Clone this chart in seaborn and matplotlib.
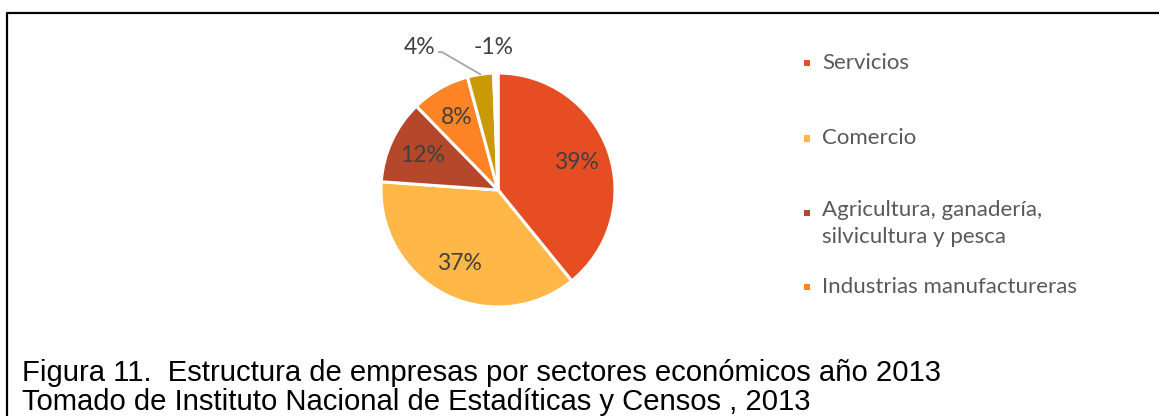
import matplotlib
matplotlib.use("Agg")
import matplotlib.pyplot as plt
from matplotlib.patches import Rectangle
from matplotlib.lines import Line2D
import numpy as np
import seaborn as sns

# ---- data ----
legend_labels = ["Servicios", "Comercio",
                 "Agricultura, ganadería,\nsilvicultura y pesca",
                 "Industrias manufactureras"]
values = [39.2, 37.0, 11.6, 8.1, 3.6, -0.6]
colors = ["#E64D23", "#FFB847", "#B5472A", "#FF8426", "#C99A06", "#FFFFFF"]
caption_lines = ["Figura 11.  Estructura de empresas por sectores económicos año 2013",
                 "Tomado de Instituto Nacional de Estadíticas y Censos , 2013"]

sns.set_theme(style="white")
plt.rcParams["font.family"] = ["Lato", "DejaVu Sans"]

W, H = 1159, 416
fig = plt.figure(figsize=(W / 100, H / 100), dpi=100)
fig.patch.set_facecolor("white")

# pie axes: centre (498,190), radius 117 px
cx, cy, R = 498, 190, 117
ax = fig.add_axes([(cx - R) / W, (H - cy - R) / H, 2 * R / W, 2 * R / H])
ax.set_facecolor("none")

sizes = [abs(v) for v in values]
wedges, _ = ax.pie(sizes, colors=colors, startangle=90, counterclock=False,
                   radius=1.0,
                   wedgeprops=dict(edgecolor="white", linewidth=2.2))
ax.set_xlim(-1, 1)
ax.set_ylim(-1, 1)
ax.set_aspect("equal")
ax.axis("off")

labels = [f"{v:.0f}%" for v in values]
label_color = "#404040"
lfs = 16.5
for i, (w, lab) in enumerate(zip(wedges, labels)):
    th = np.deg2rad((w.theta1 + w.theta2) / 2)
    if i < 4:
        ax.text(0.71 * np.cos(th), 0.71 * np.sin(th), lab, ha="center",
                va="center", fontsize=lfs, color=label_color)
    elif i == 4:
        ax.annotate(lab, xy=(np.cos(th), np.sin(th)), xytext=(-0.67, 1.215),
                    ha="center", va="center", fontsize=lfs, color=label_color,
                    annotation_clip=False,
                    arrowprops=dict(arrowstyle="-", color="#A6A6A6", lw=1.3,
                                    relpos=(1.0, 0.3), shrinkA=0, shrinkB=0,
                                    connectionstyle="angle,angleA=0,angleB=150"))
    else:
        ax.text(-0.04, 1.215, lab, ha="center", va="center", fontsize=lfs,
                color=label_color, clip_on=False)

# legend (manual, Excel-like)
leg_fs = 16
leg_y = [63, 138.5, 213, 287]
for lab, col, y in zip(legend_labels, colors, leg_y):
    fig.patches.append(Rectangle(((807 - 3.2) / W, (H - y - 3.2) / H), 6.4 / W, 6.4 / H,
                                 transform=fig.transFigure, facecolor=col,
                                 edgecolor="none"))
    if "\n" in lab:
        fig.text(822 / W, (H - y + 13) / H, lab, ha="left", va="top",
                 fontsize=leg_fs, color="#595959", linespacing=1.45)
    else:
        fig.text(822 / W, (H - y) / H, lab, ha="left", va="center",
                 fontsize=leg_fs, color="#595959")

# caption
for k, line in enumerate(caption_lines):
    fig.text(22 / W, (H - 373 - 29 * k) / H, line, ha="left", va="center",
             fontsize=21.1, color="black", family=["Liberation Sans", "DejaVu Sans"])

# frame (top and left border)
fig.add_artist(Line2D([6.5 / W, 6.5 / W, 1.0], [0.0, (H - 12.5) / H, (H - 12.5) / H],
                      transform=fig.transFigure, color="black", lw=1.6))

fig.savefig("out.png", dpi=100, facecolor="white")
